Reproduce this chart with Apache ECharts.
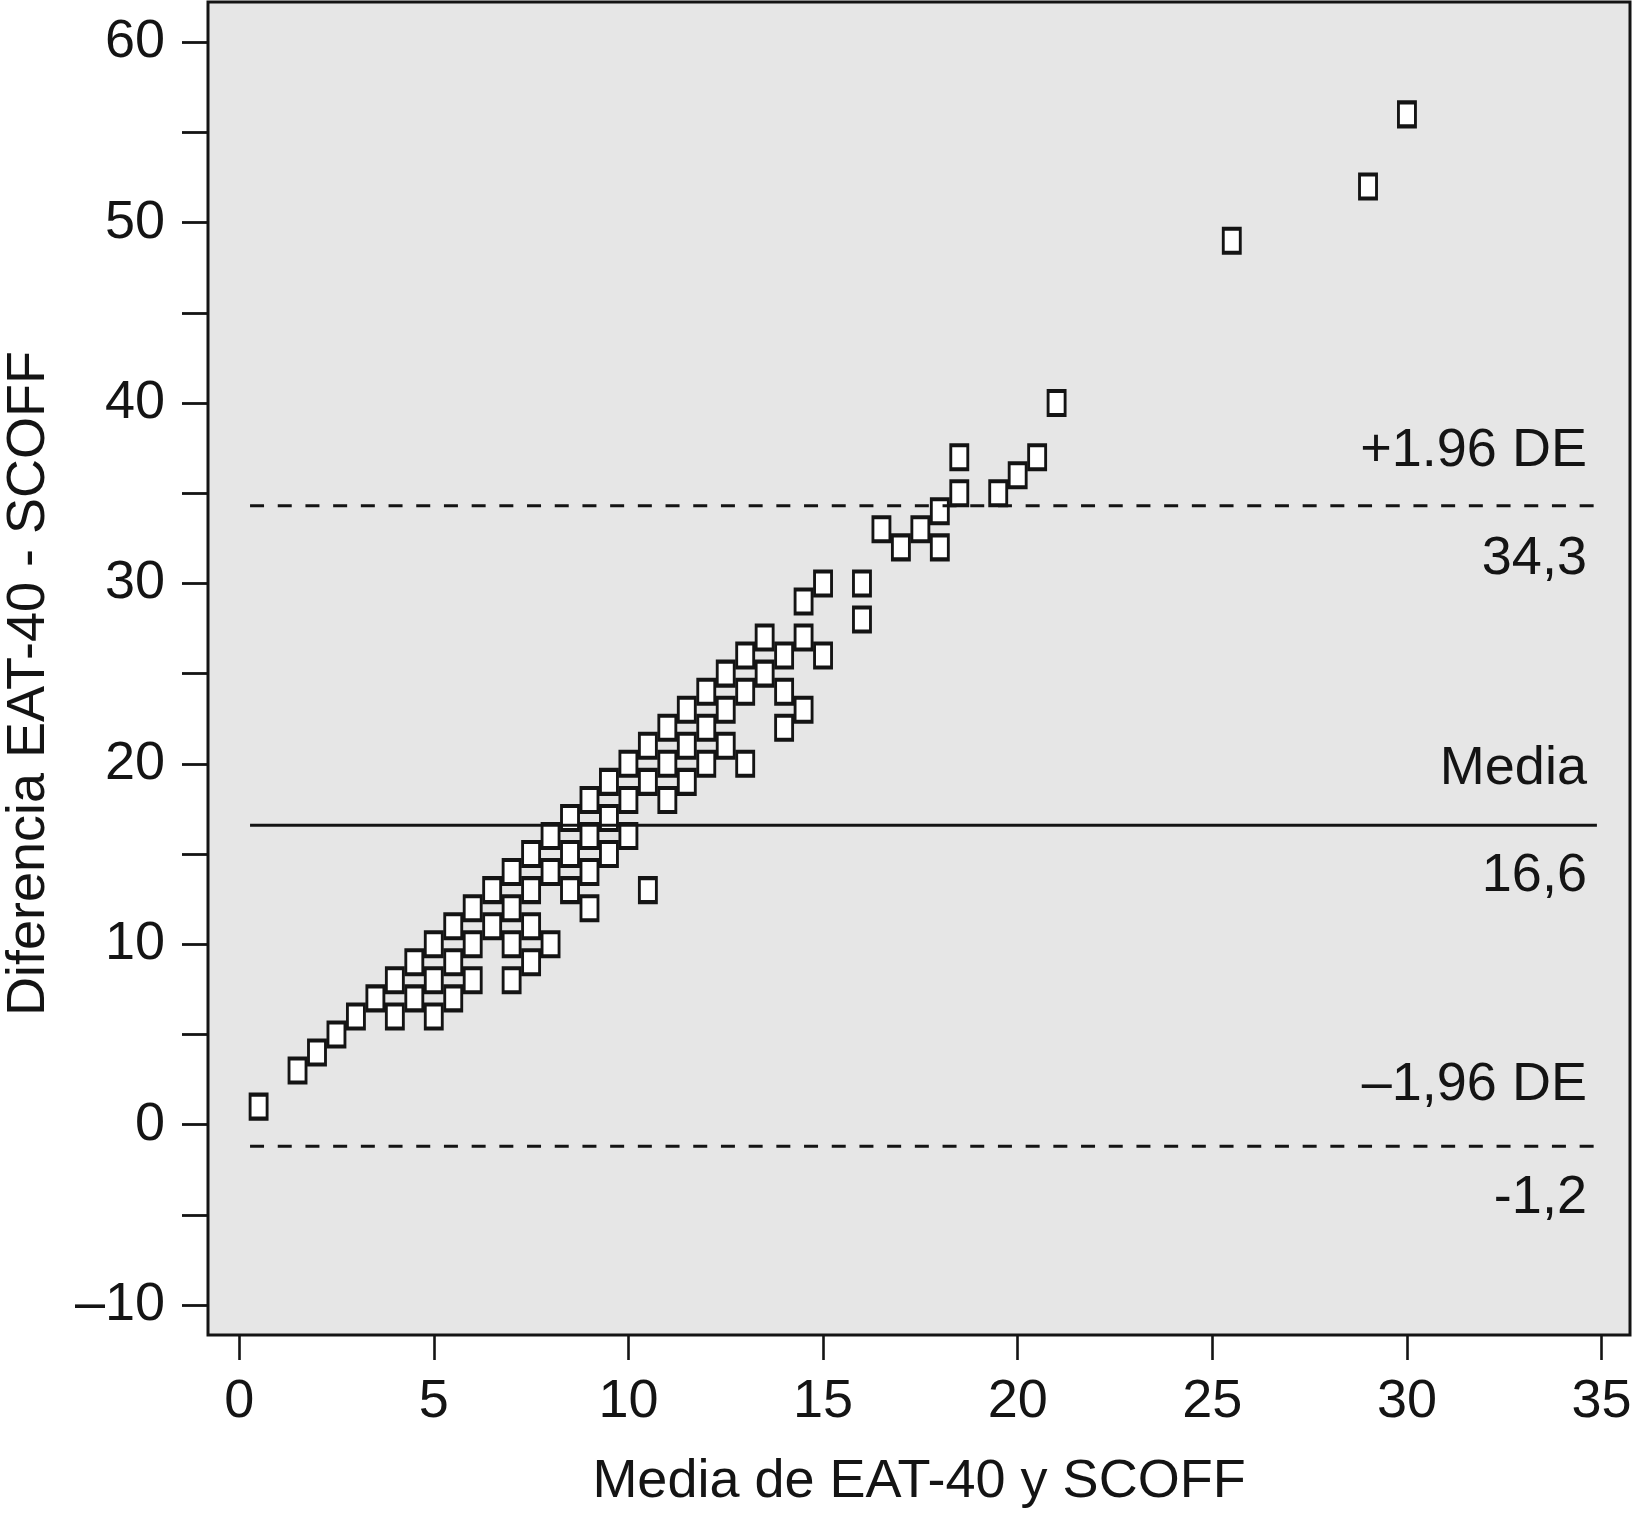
<!DOCTYPE html>
<html>
<head>
<meta charset="utf-8">
<script src="https://cdn.jsdelivr.net/npm/echarts@6/dist/echarts.min.js"></script>
<style>
html,body{margin:0;padding:0;background:#ffffff;}
#chart{width:1632px;height:1518px;}
</style>
</head>
<body>
<div id="chart"></div>
<script>
// ---- data ----
const meanValues = [0.5, 1.5, 2, 2.5, 3, 3.5, 4, 4, 4.5, 4.5, 5, 5, 5, 5.5, 5.5, 5.5, 6, 6, 6, 6.5, 6.5,
  7, 7, 7, 7, 7.5, 7.5, 7.5, 7.5, 8, 8, 8, 8.5, 8.5, 8.5, 9, 9, 9, 9, 9.5, 9.5, 9.5, 10, 10, 10,
  10.5, 10.5, 10.5, 11, 11, 11, 11.5, 11.5, 11.5, 12, 12, 12, 12.5, 12.5, 12.5, 13, 13, 13, 13.5, 13.5,
  14, 14, 14, 14.5, 14.5, 14.5, 15, 15, 16, 16, 16.5, 17, 17.5, 18, 18, 18.5, 18.5, 19.5, 20, 20.5, 21,
  25.5, 29, 30];
const diffValues = [1, 3, 4, 5, 6, 7, 8, 6, 9, 7, 10, 8, 6, 11, 9, 7, 12, 10, 8, 13, 11,
  14, 12, 10, 8, 15, 13, 11, 9, 16, 14, 10, 17, 15, 13, 18, 16, 14, 12, 19, 17, 15, 20, 18, 16,
  21, 19, 13, 22, 20, 18, 23, 21, 19, 24, 22, 20, 25, 23, 21, 26, 24, 20, 27, 25,
  26, 24, 22, 29, 27, 23, 30, 26, 30, 28, 33, 32, 33, 34, 32, 37, 35, 35, 36, 37, 40,
  49, 52, 56];

const limitValues = [34.3, 16.6, -1.2];
const limitNames = ['+1.96 DE', 'Media', '\u20131,96 DE'];
const limitLabels = ['34,3', '16,6', '-1,2'];
const limitLineX = [0.28, 34.88];

const xTickValues = [0, 5, 10, 15, 20, 25, 30, 35];
const yTickValues = [-10, -5, 0, 5, 10, 15, 20, 25, 30, 35, 40, 45, 50, 55, 60];
const yLabelValues = [-10, 0, 10, 20, 30, 40, 50, 60];

const xTitle = 'Media de EAT-40 y SCOFF';
const yTitle = 'Diferencia EAT-40 - SCOFF';

// ---- chart ----
const FONT = "'Liberation Sans', Arial, Helvetica, sans-serif";
const INK = '#141414';

const points = meanValues.map((m, i) => [m, diffValues[i]]);

const limitSeries = limitValues.map((v, i) => ({
  type: 'line',
  data: [[limitLineX[0], v], [limitLineX[1], v]],
  symbol: 'none',
  showSymbol: false,
  silent: true,
  z: 5,
  lineStyle: {
    color: INK,
    width: 3,
    type: i === 1 ? 'solid' : [14, 13.7]
  }
}));

const chart = echarts.init(document.getElementById('chart'), null, { renderer: 'canvas' });

chart.setOption({
  animation: false,
  backgroundColor: '#ffffff',
  grid: {
    left: 208, right: 2, top: 2, bottom: 183,
    containLabel: false,
    outerBoundsMode: 'none',
    show: true,
    backgroundColor: '#e6e6e6',
    borderColor: INK,
    borderWidth: 3
  },
  xAxis: {
    type: 'value',
    min: -0.8,
    max: 35.73,
    name: xTitle,
    nameLocation: 'middle',
    nameGap: 120,
    nameTextStyle: { fontFamily: FONT, fontSize: 54, color: INK },
    axisLine: { show: false, onZero: false },
    splitLine: { show: false },
    axisTick: { show: true, customValues: xTickValues, length: 25, lineStyle: { color: INK, width: 2.6 } },
    axisLabel: { customValues: xTickValues, margin: 40, fontFamily: FONT, fontSize: 54, color: INK, hideOverlap: false }
  },
  yAxis: {
    type: 'value',
    min: -11.66,
    max: 62.23,
    name: yTitle,
    nameLocation: 'middle',
    nameRotate: 90,
    nameGap: 152,
    nameTextStyle: { fontFamily: FONT, fontSize: 54, color: INK, padding: [0, 30, 0, 0] },
    axisLine: { show: false, onZero: false },
    splitLine: { show: false },
    axisTick: { show: true, customValues: yTickValues, length: 26, lineStyle: { color: INK, width: 2.8 } },
    axisLabel: {
      customValues: yLabelValues,
      margin: 43,
      fontFamily: FONT, fontSize: 54, color: INK,
      formatter: v => (v < 0 ? '\u2013' + Math.abs(v) : String(v))
    }
  },
  series: [
    {
      type: 'scatter',
      data: points,
      symbol: 'rect',
      symbolSize: [17, 24],
      z: 3,
      itemStyle: { color: '#ffffff', borderColor: INK, borderWidth: 3.4, opacity: 1 }
    }
  ].concat(limitSeries)
});

// annotation texts placed through the chart's own scales
const aboveGap = [54.5, 56, 61];
const belowGap = [53.3, 51, 52.3];
const graphics = [];
limitValues.forEach((v, i) => {
  const p = chart.convertToPixel({ gridIndex: 0 }, [limitLineX[1], v]);
  const xr = p[0] - 10;
  graphics.push({
    type: 'text', x: xr, y: p[1] - aboveGap[i], z: 10, silent: true,
    style: { text: limitNames[i], font: '54px ' + FONT, fill: INK, align: 'right', verticalAlign: 'middle' }
  });
  graphics.push({
    type: 'text', x: xr, y: p[1] + belowGap[i], z: 10, silent: true,
    style: { text: limitLabels[i], font: '54px ' + FONT, fill: INK, align: 'right', verticalAlign: 'middle' }
  });
});
chart.setOption({ graphic: graphics });
</script>
</body>
</html>
